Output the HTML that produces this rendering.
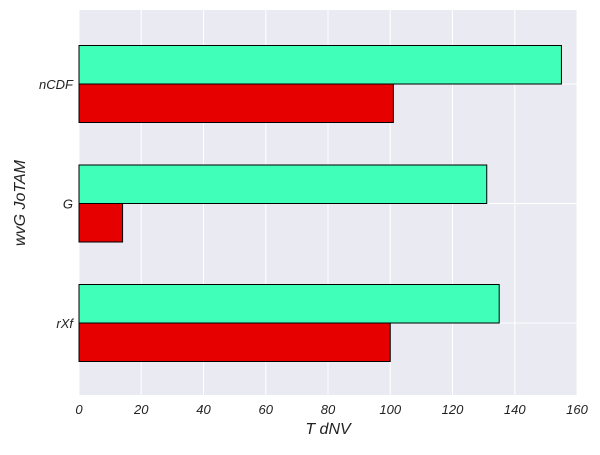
<!DOCTYPE html>
<html><head><meta charset="utf-8"><style>
body{margin:0;background:#fff;}
svg text{font-family:"Liberation Sans",sans-serif;font-style:italic;}
</style></head><body>
<svg id="chart" width="600" height="450">
<rect x="79" y="10" width="498" height="385" fill="#EAEAF2"/>
<g id="grid"></g><g id="bars"></g><g id="ticks"></g>
<text x="328" y="434" font-size="16" text-anchor="middle" fill="#222">T dNV</text>
<text transform="translate(25,203) rotate(-90)" font-size="16" text-anchor="middle" fill="#222">wvG JoTAM</text>
</svg>
<script>
const categories=["nCDF","G","rXf"];
const seriesGreen=[155,131,135];
const seriesRed=[101,14,100];
const xTicks=[0,20,40,60,80,100,120,140,160];
const ns="http://www.w3.org/2000/svg";
const x0=79,x1=577,xmax=160;
const xs=v=>x0+(x1-x0)*v/xmax;
const yc=i=>84+i*119.5;
const bh=38.5;
function mk(t,a,p){const e=document.createElementNS(ns,t);for(const k in a)e.setAttribute(k,a[k]);document.getElementById(p).appendChild(e);return e;}
xTicks.forEach(t=>{
 const l=mk('line',{x1:xs(t),x2:xs(t),y1:10,y2:395,stroke:'#fff','stroke-width':1},'grid');
 
 
 const tx=mk('text',{x:xs(t),y:414,'font-size':13,'text-anchor':'middle',fill:'#222'},'ticks');
 tx.textContent=t;
 
 
});
categories.forEach((c,i)=>{
 const l=mk('line',{x1:x0,x2:x1,y1:yc(i),y2:yc(i),stroke:'#fff','stroke-width':1},'grid');
 
 
 const g=mk('rect',{x:xs(0),y:yc(i)-bh,width:xs(seriesGreen[i])-xs(0),height:bh,fill:'#40FFB8',stroke:'#000','stroke-width':1},'bars');
 
 
 const r=mk('rect',{x:xs(0),y:yc(i),width:xs(seriesRed[i])-xs(0),height:bh,fill:'#E60000',stroke:'#000','stroke-width':1},'bars');
 
 
 const tx=mk('text',{x:73,y:yc(i)+5,'font-size':13,'text-anchor':'end',fill:'#222'},'ticks');
 tx.textContent=c;
 
 
});
</script>
</body></html>
